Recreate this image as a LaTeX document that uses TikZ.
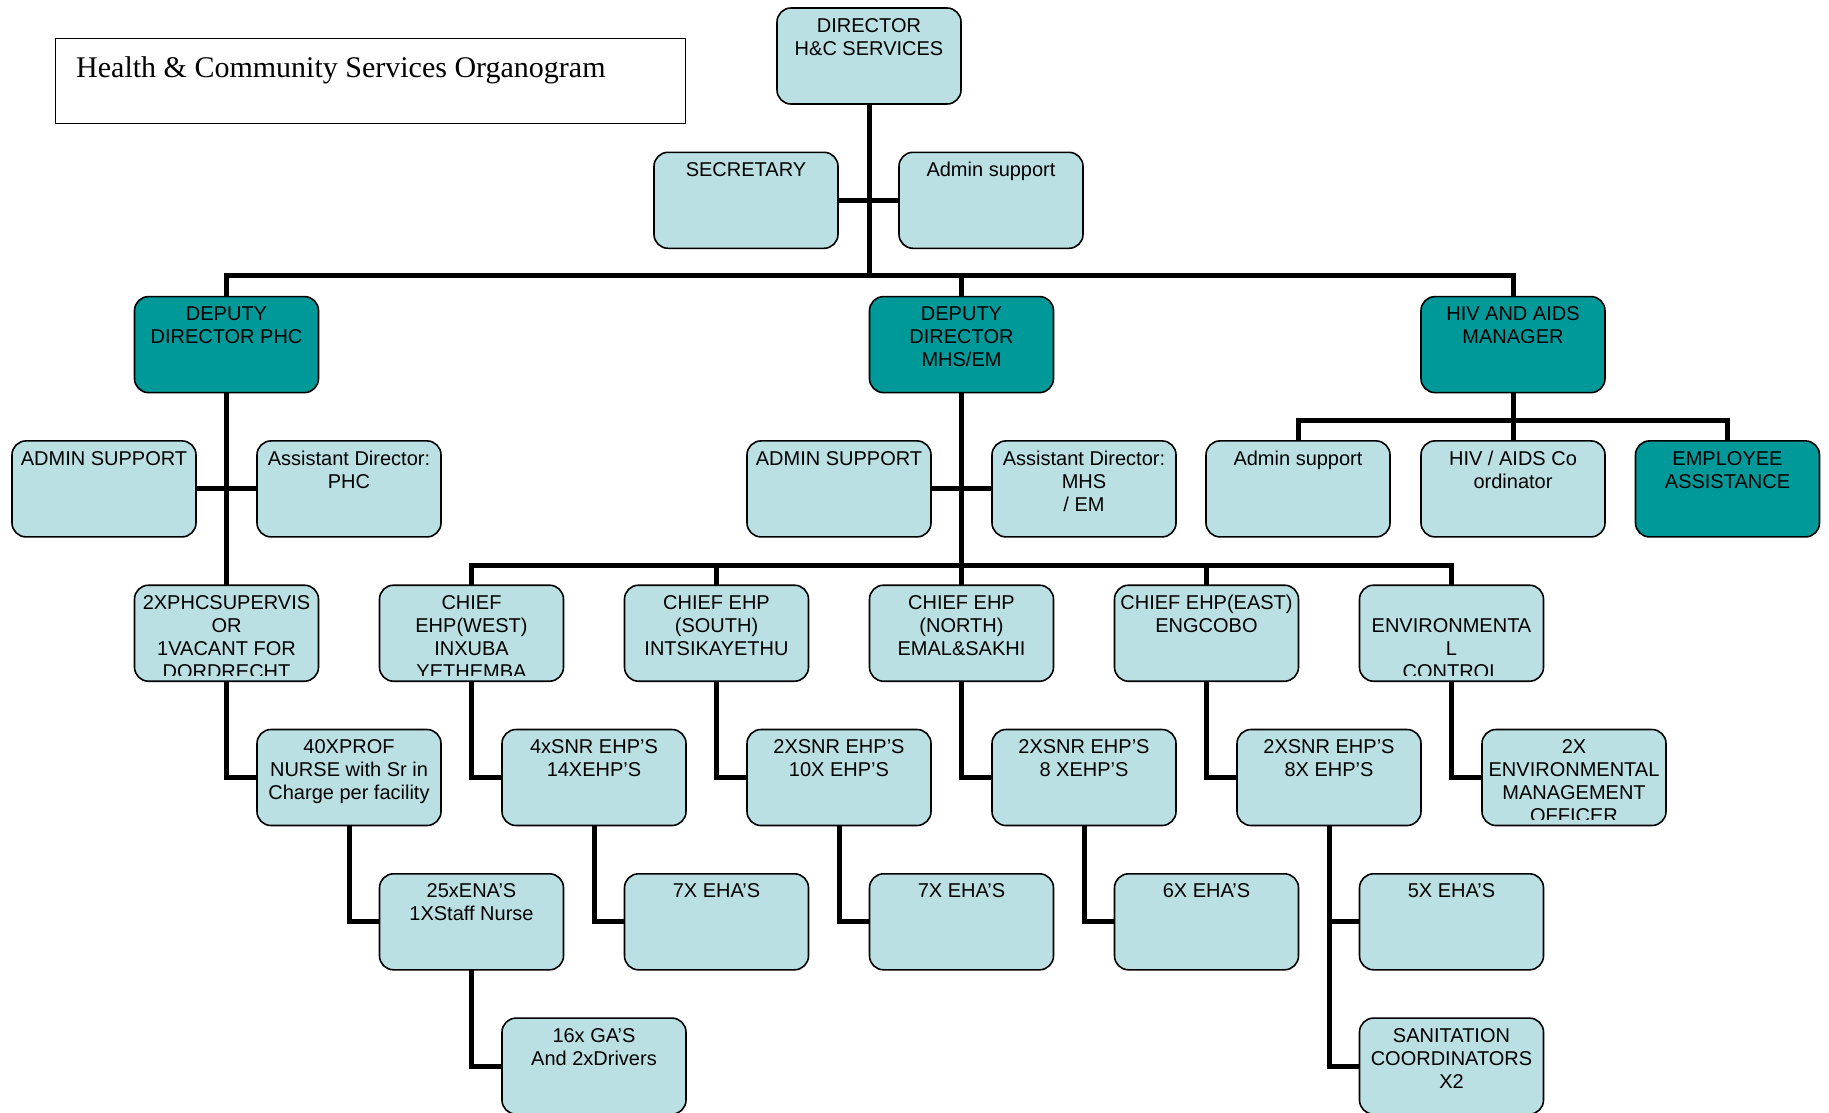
\documentclass[tikz,border=0pt]{standalone}
\usepackage{fontspec}
\setmainfont{Liberation Sans}
\newfontfamily\titlefont{Liberation Serif}
\usetikzlibrary{backgrounds}
\definecolor{paleteal}{RGB}{187,224,227}
\definecolor{deepteal}{RGB}{0,153,153}

% box with top-aligned text, clipped just inside the lower edge
\newcommand\orgnode[5]{%
  \node[#2] (#1) at (#3,#4) {};
  \begin{scope}
    \clip ([yshift=6pt]#1.south west) rectangle (#1.north east);
    \node[boxtext] (#1-t) at ([yshift=-10pt]#1.north) {#5};
  \end{scope}}

\begin{document}
\begin{tikzpicture}[x=1pt,y=-1pt,
  orgbox/.style={draw=black, line width=1.6pt, rounded corners=14pt,
    minimum width=184pt, minimum height=96pt, inner sep=0pt, outer sep=0pt,
    fill=paleteal},
  headbox/.style={orgbox, fill=deepteal},
  boxtext/.style={anchor=north, align=center, inner sep=0pt,
    font=\fontsize{20}{23}\selectfont},
  conn/.style={line width=5pt, draw=black}
]
\useasboundingbox (0,0) rectangle (1829,1112);
\clip (0,0) rectangle (1829,1112);

% title
\node[draw=black, line width=1.4pt, fill=white, minimum width=630pt,
  minimum height=85pt, anchor=north west, inner sep=0pt] (titlebox) at (55,38) {};
\node[anchor=base west, inner sep=0pt, font=\titlefont\fontsize{30}{34}\selectfont]
  (titletext) at (76,77) {Health \& Community Services Organogram};

% top level
\orgnode{dir}{orgbox}{869}{56}{DIRECTOR\\H\&C SERVICES}
\orgnode{sec}{orgbox}{746}{200.3}{SECRETARY}
\orgnode{adm}{orgbox}{991}{200.3}{Admin support}

% deputies
\orgnode{dphc}{headbox}{226.5}{344.6}{DEPUTY\\DIRECTOR PHC}
\orgnode{dmhs}{headbox}{961.5}{344.6}{DEPUTY\\DIRECTOR\\MHS/EM}
\orgnode{hiv}{headbox}{1513}{344.6}{HIV AND AIDS\\MANAGER}

% second row
\orgnode{admA}{orgbox}{104}{488.9}{ADMIN SUPPORT}
\orgnode{asstA}{orgbox}{349}{488.9}{Assistant Director:\\PHC}
\orgnode{admB}{orgbox}{839}{488.9}{ADMIN SUPPORT}
\orgnode{asstB}{orgbox}{1084}{488.9}{Assistant Director:\\MHS\\/ EM}
\orgnode{hadm}{orgbox}{1298}{488.9}{Admin support}
\orgnode{hivco}{orgbox}{1513}{488.9}{HIV / AIDS Co\\ordinator}
\orgnode{emp}{headbox}{1727.5}{488.9}{EMPLOYEE\\ASSISTANCE}

% third row
\orgnode{sup}{orgbox}{226.5}{633.2}{2XPHCSUPERVIS\\OR\\1VACANT FOR\\DORDRECHT}
\orgnode{chW}{orgbox}{471.5}{633.2}{CHIEF\\EHP(WEST)\\INXUBA\\YETHEMBA}
\orgnode{chS}{orgbox}{716.5}{633.2}{CHIEF EHP\\(SOUTH)\\INTSIKAYETHU}
\orgnode{chN}{orgbox}{961.5}{633.2}{CHIEF EHP\\(NORTH)\\EMAL\&SAKHI}
\orgnode{chE}{orgbox}{1206.5}{633.2}{CHIEF EHP(EAST)\\ENGCOBO}
\orgnode{env}{orgbox}{1451.5}{633.2}{\rule{0pt}{14.3pt}\\ENVIRONMENTA\\L\\CONTROL}

% fourth row
\orgnode{nurse}{orgbox}{349}{777.5}{40XPROF\\NURSE with Sr in\\Charge per facility}
\orgnode{snrW}{orgbox}{594}{777.5}{4xSNR EHP’S\\14XEHP’S}
\orgnode{snrS}{orgbox}{839}{777.5}{2XSNR EHP’S\\10X EHP’S}
\orgnode{snrN}{orgbox}{1084}{777.5}{2XSNR EHP’S\\8 XEHP’S}
\orgnode{snrE}{orgbox}{1329}{777.5}{2XSNR EHP’S\\8X EHP’S}
\orgnode{envo}{orgbox}{1574}{777.5}{2X\\ENVIRONMENTAL\\MANAGEMENT\\OFFICER}

% fifth row
\orgnode{ena}{orgbox}{471.5}{921.8}{25xENA’S\\1XStaff Nurse}
\orgnode{ehaW}{orgbox}{716.5}{921.8}{7X EHA’S}
\orgnode{ehaS}{orgbox}{961.5}{921.8}{7X EHA’S}
\orgnode{ehaN}{orgbox}{1206.5}{921.8}{6X EHA’S}
\orgnode{ehaE}{orgbox}{1451.5}{921.8}{5X EHA’S}

% sixth row
\orgnode{ga}{orgbox}{594}{1066.1}{16x GA’S\\And 2xDrivers}
\orgnode{san}{orgbox}{1451.5}{1066.1}{SANITATION\\COORDINATORS\\X2}

% bus bars
\coordinate (bartop) at (869,275);
\coordinate (barhiv) at (1513,420);
\coordinate (barchief) at (961.5,565);

\begin{scope}[on background layer]
  \draw[conn] (dir.south) -- (bartop);
  \draw[conn] (sec.east) -- (adm.west);
  \draw[conn] (dphc.north) |- (bartop) -| (hiv.north);
  \draw[conn] (dmhs.north) -- (dmhs.north |- bartop);

  \draw[conn] (dphc.south) -- (sup.north);
  \draw[conn] (admA.east) -- (asstA.west);

  \draw[conn] (dmhs.south) -- (barchief);
  \draw[conn] (admB.east) -- (asstB.west);
  \draw[conn] (chW.north) |- (barchief) -| (env.north);
  \draw[conn] (chS.north) -- (chS.north |- barchief);
  \draw[conn] (chN.north) -- (chN.north |- barchief);
  \draw[conn] (chE.north) -- (chE.north |- barchief);

  \draw[conn] (hiv.south) -- (hivco.north);
  \draw[conn] (hadm.north) |- (barhiv) -| (emp.north);

  \draw[conn] (sup.south) |- (nurse.west);
  \draw[conn] (chW.south) |- (snrW.west);
  \draw[conn] (chS.south) |- (snrS.west);
  \draw[conn] (chN.south) |- (snrN.west);
  \draw[conn] (chE.south) |- (snrE.west);
  \draw[conn] (env.south) |- (envo.west);

  \draw[conn] (nurse.south) |- (ena.west);
  \draw[conn] (snrW.south) |- (ehaW.west);
  \draw[conn] (snrS.south) |- (ehaS.west);
  \draw[conn] (snrN.south) |- (ehaN.west);
  \draw[conn] (snrE.south) |- (ehaE.west);
  \draw[conn] (snrE.south) |- (san.west);
  \draw[conn] (ena.south) |- (ga.west);
\end{scope}
\end{tikzpicture}
\end{document}
